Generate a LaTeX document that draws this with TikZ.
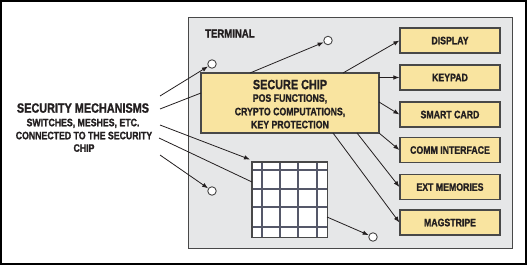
\documentclass[tikz,border=0pt]{standalone}
\usepackage{fontspec}
\setmainfont{Liberation Sans}[FakeStretch=0.81, FakeBold=1.2]
\usetikzlibrary{arrows.meta,calc}
\definecolor{termfill}{RGB}{230,231,232}
\definecolor{chipfill}{RGB}{249,228,160}
\definecolor{edgec}{RGB}{72,72,72}
\definecolor{ink}{RGB}{35,31,32}
\definecolor{meshc}{RGB}{85,88,105}
\tikzset{
  lbl/.style={inner sep=0pt, text depth=0pt, text=ink, font=\bfseries\fontsize{10.8}{12}\selectfont},
  biglbl/.style={lbl, font=\bfseries\fontsize{13.4}{15}\selectfont},
  devbox/.style={draw=edgec, line width=1.2pt, fill=chipfill, minimum width=100pt, minimum height=25pt,
                 inner sep=0pt, text depth=0pt, text=ink, font=\bfseries\fontsize{10.8}{12}\selectfont},
  pin/.style={circle, draw=edgec, fill=white, minimum size=8.5pt, inner sep=0pt, line width=0.9pt},
  conn/.style={draw=ink, line width=0.8pt},
  arr/.style={conn, -{Latex[length=6pt,width=4.5pt]}},
  meshline/.style={draw=meshc, line width=1.3pt}
}
\begin{document}
\begin{tikzpicture}[x=1pt,y=-1pt]
\useasboundingbox (0,0) rectangle (528,265);
\draw[black, line width=1.3pt] (1,1) rectangle (526,264);

% terminal
\node[draw=edgec, fill=termfill, line width=1.2pt, minimum width=324pt, minimum height=231pt,
      anchor=north west, inner sep=0pt] (term) at (188,17) {};
\node[biglbl, anchor=west, font=\bfseries\fontsize{11.8}{13}\selectfont] (termlbl) at (205,33.5) {TERMINAL};

% secure chip
\node[draw=edgec, fill=chipfill, line width=1.2pt, minimum width=178pt, minimum height=60pt, inner sep=0pt] (chip) at (290,103) {};
\node[biglbl] (chipt1) at (290,84.5) {SECURE CHIP};
\node[lbl] (chipt2) at (290,98) {POS FUNCTIONS,};
\node[lbl] (chipt3) at (290,111.5) {CRYPTO COMPUTATIONS,};
\node[lbl] (chipt4) at (290,124.5) {KEY PROTECTION};

% peripheral boxes
\node[devbox] (display) at (450,40.5) {DISPLAY};
\node[devbox] (keypad) at (450,77.5) {KEYPAD};
\node[devbox] (smart) at (450,114.5) {SMART CARD};
\node[devbox] (comm) at (450,150) {COMM INTERFACE};
\node[devbox] (extmem) at (450,187) {EXT MEMORIES};
\node[devbox] (mag) at (450,222.5) {MAGSTRIPE};

% mesh
\node[draw=edgec, fill=white, line width=1pt, minimum width=75pt, minimum height=75pt, inner sep=0pt] (mesh) at (289.5,199.5) {};
\foreach \x in {262,280,298,317} \draw[meshline] (\x,162.5) -- (\x,236.5);
\foreach \y in {170,189,207,227} \draw[meshline] (252.5,\y) -- (326.5,\y);
\draw[draw=edgec, line width=1pt] (mesh.north west) rectangle (mesh.south east);

% switches
\node[pin] (c1) at (212,64) {};
\node[pin] (c2) at (328,40.5) {};
\node[pin] (c3) at (212,191) {};
\node[pin] (c4) at (373,237) {};

% left label
\node[biglbl] (sm1) at (83,108) {SECURITY MECHANISMS};
\node[lbl] (sm2) at (83,122.5) {SWITCHES, MESHES, ETC.};
\node[lbl] (sm3) at (84,135.5) {CONNECTED TO THE SECURITY};
\node[lbl] (sm4) at (84,148) {CHIP};

% free ends near the label
\coordinate (l1) at (160,96);
\coordinate (l2) at (160,109);
\coordinate (l3) at (160,125);
\coordinate (l4) at (159,138);
\coordinate (l5) at (160,155);
% points on the chip
\coordinate (chipL) at (201,93);
\coordinate (chipT1) at (250,73);
\coordinate (chipT2) at (343,73);
\coordinate (chipR1) at (379,77.5);
\coordinate (chipR2) at (379,102);
\coordinate (chipB1) at (379,133);
\coordinate (chipB2) at (357,133);
\coordinate (chipB3) at (333,133);
% points on the mesh
\coordinate (meshTL) at (250,159.5);
\coordinate (meshL) at (252,182);
\coordinate (meshR) at (327,217);

\draw[arr] (l1) -- (c1);
\draw[conn] (l2) -- (chipL);
\draw[arr] (l3) -- (meshTL);
\draw[conn] (l4) -- (meshL);
\draw[arr] (l5) -- (c3);

\draw[arr] (chipT1) -- (c2);
\draw[arr] (chipT2) -- (display.west);
\draw[arr] (chipR1) -- (keypad.west);
\draw[arr] (chipR2) -- (smart.west);
\draw[arr] (chipB1) -- (comm.west);
\draw[arr] (chipB2) -- (extmem.west);
\draw[arr] (chipB3) -- (mag.west);
\draw[arr] (meshR) -- (c4);
\end{tikzpicture}
\end{document}
